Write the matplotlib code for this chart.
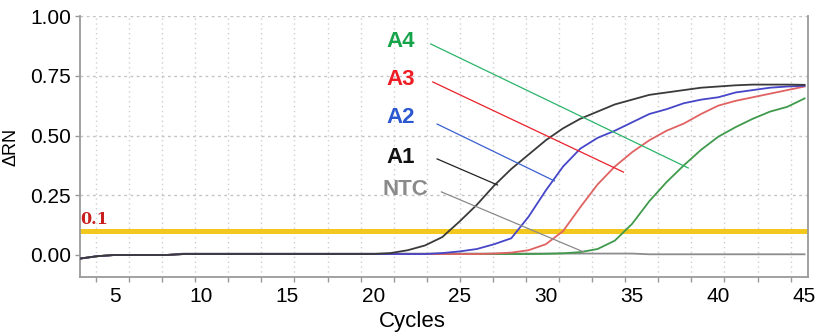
import numpy as np
import matplotlib
matplotlib.use("Agg")
import matplotlib.pyplot as plt

plt.rcParams['font.family'] = ['Liberation Sans', 'DejaVu Sans']

# ---------------- data ----------------
cycles = list(range(3, 46))  # 3 .. 45

base = [-0.015, -0.005, 0.0, 0.0, 0.0, 0.0]  # cycles 3..8

a1 = base + [0.004] * 12 + [0.008, 0.02, 0.04, 0.075, 0.14, 0.21, 0.29, 0.36, 0.42, 0.48,
                            0.53, 0.57, 0.60, 0.63, 0.65, 0.67, 0.68, 0.69, 0.70, 0.705,
                            0.71, 0.713, 0.713, 0.713, 0.712]
a2 = base + [0.004] * 15 + [0.008, 0.015, 0.025, 0.045, 0.07, 0.16, 0.27, 0.37, 0.445, 0.49,
                            0.52, 0.555, 0.59, 0.61, 0.635, 0.65, 0.66, 0.68, 0.69, 0.70,
                            0.705, 0.708]
a3 = base + [0.004] * 18 + [0.006, 0.01, 0.02, 0.045, 0.10, 0.20, 0.295, 0.37, 0.43, 0.48,
                            0.52, 0.55, 0.59, 0.625, 0.645, 0.66, 0.675, 0.69, 0.705]
a4 = base + [0.004] * 21 + [0.005, 0.007, 0.012, 0.025, 0.06, 0.13, 0.225, 0.305, 0.375, 0.44,
                            0.495, 0.535, 0.57, 0.60, 0.62, 0.655]
ntc = base + [0.006] * 27 + [0.003] * 10

threshold = 0.1
x_tick_labels = [5, 10, 15, 20, 25, 30, 35, 40, 45]
y_ticks = [0.0, 0.25, 0.5, 0.75, 1.0]

series_names = ["NTC", "A4", "A3", "A2", "A1"]
series_values = [ntc, a4, a3, a2, a1]
curve_colors = ["#8c8c8c", "#3f9a4c", "#e06262", "#4646c8", "#3a3a3a"]

# annotation: label, text pos (cycle, value), line start, line end
ann_labels = ["A4", "A3", "A2", "A1", "NTC"]
ann_text_pos = [(21.6, 0.895), (21.6, 0.736), (21.6, 0.577), (21.6, 0.41), (21.85, 0.272)]
ann_line_start = [(23.33, 0.883), (23.45, 0.724), (23.7, 0.548), (23.7, 0.402), (23.95, 0.264)]
ann_line_end = [(38.26, 0.364), (34.5, 0.347), (30.5, 0.310), (27.2, 0.293), (32.2, 0.0126)]
ann_text_colors = ["#16a34a", "#ee1c25", "#2b57d0", "#111111", "#8a8a8a"]
ann_line_colors = ["#2bb56a", "#e8212b", "#3a5fd0", "#222222", "#8a8a8a"]

# ---------------- figure ----------------
fig = plt.figure(figsize=(8.17, 3.32), dpi=100)
ax = fig.add_axes([0.0979, 0.1657, 0.8911, 0.7861])

# grid positions (dotted)
grid_x = np.linspace(3.93, 44.19, 22)
for gx in grid_x:
    ax.axvline(gx, color="#cfcfcf", lw=1.0, ls=(0, (1, 2.5)), zorder=0)
for gy in y_ticks[1:]:
    ax.axhline(gy, color="#c4c4c4", lw=1.0, ls=(0, (2, 2.5)), zorder=0)

# threshold
ax.axhline(threshold, color="#F2C81E", lw=3.6, zorder=2)
ax.text(3.0, threshold + 0.012, "0.1", color="#c8201e", fontsize=11.5,
        fontweight="bold", family="DejaVu Serif", ha="left", va="bottom", zorder=5)

for name, vals, col in zip(series_names, series_values, curve_colors):
    ax.plot(cycles, vals, color=col, lw=1.3, zorder=3)

for lab, tp, ls, le, tc, lc in zip(ann_labels, ann_text_pos, ann_line_start,
                                   ann_line_end, ann_text_colors, ann_line_colors):
    ax.text(tp[0], tp[1], lab, color=tc, fontsize=16, fontweight="bold",
            ha="center", va="center", family="Liberation Sans", zorder=6)
    ax.plot([ls[0], le[0]], [ls[1], le[1]], color=lc, lw=0.9, zorder=4)

ax.set_xlim(3.0, 45.2)
ax.set_ylim(-0.092, 1.0)

ax.set_xticks(x_tick_labels)
ax.set_xticklabels([str(v) for v in x_tick_labels])
ax.set_xticks(grid_x, minor=True)
ax.tick_params(axis="x", which="major", length=0, pad=7, labelsize=15)
ax.tick_params(axis="x", which="minor", length=3.5, color="#999999", width=1)
ax.set_yticks(y_ticks)
ax.set_yticklabels(["%.2f" % v for v in y_ticks])
ax.tick_params(axis="y", which="major", length=3.5, color="#999999", width=1,
               labelsize=15, pad=3)

for s in ["left", "bottom", "right"]:
    ax.spines[s].set_color("#9a9a9a")
    ax.spines[s].set_linewidth(1.3)
ax.spines["top"].set_visible(False)

ax.set_xlabel("Cycles", fontsize=16)
ax.xaxis.set_label_coords(0.457, -0.13)
ax.set_ylabel("ΔRN", fontsize=13)
ax.yaxis.set_label_coords(-0.083, 0.5)

fig.savefig("out.png", dpi=100)
